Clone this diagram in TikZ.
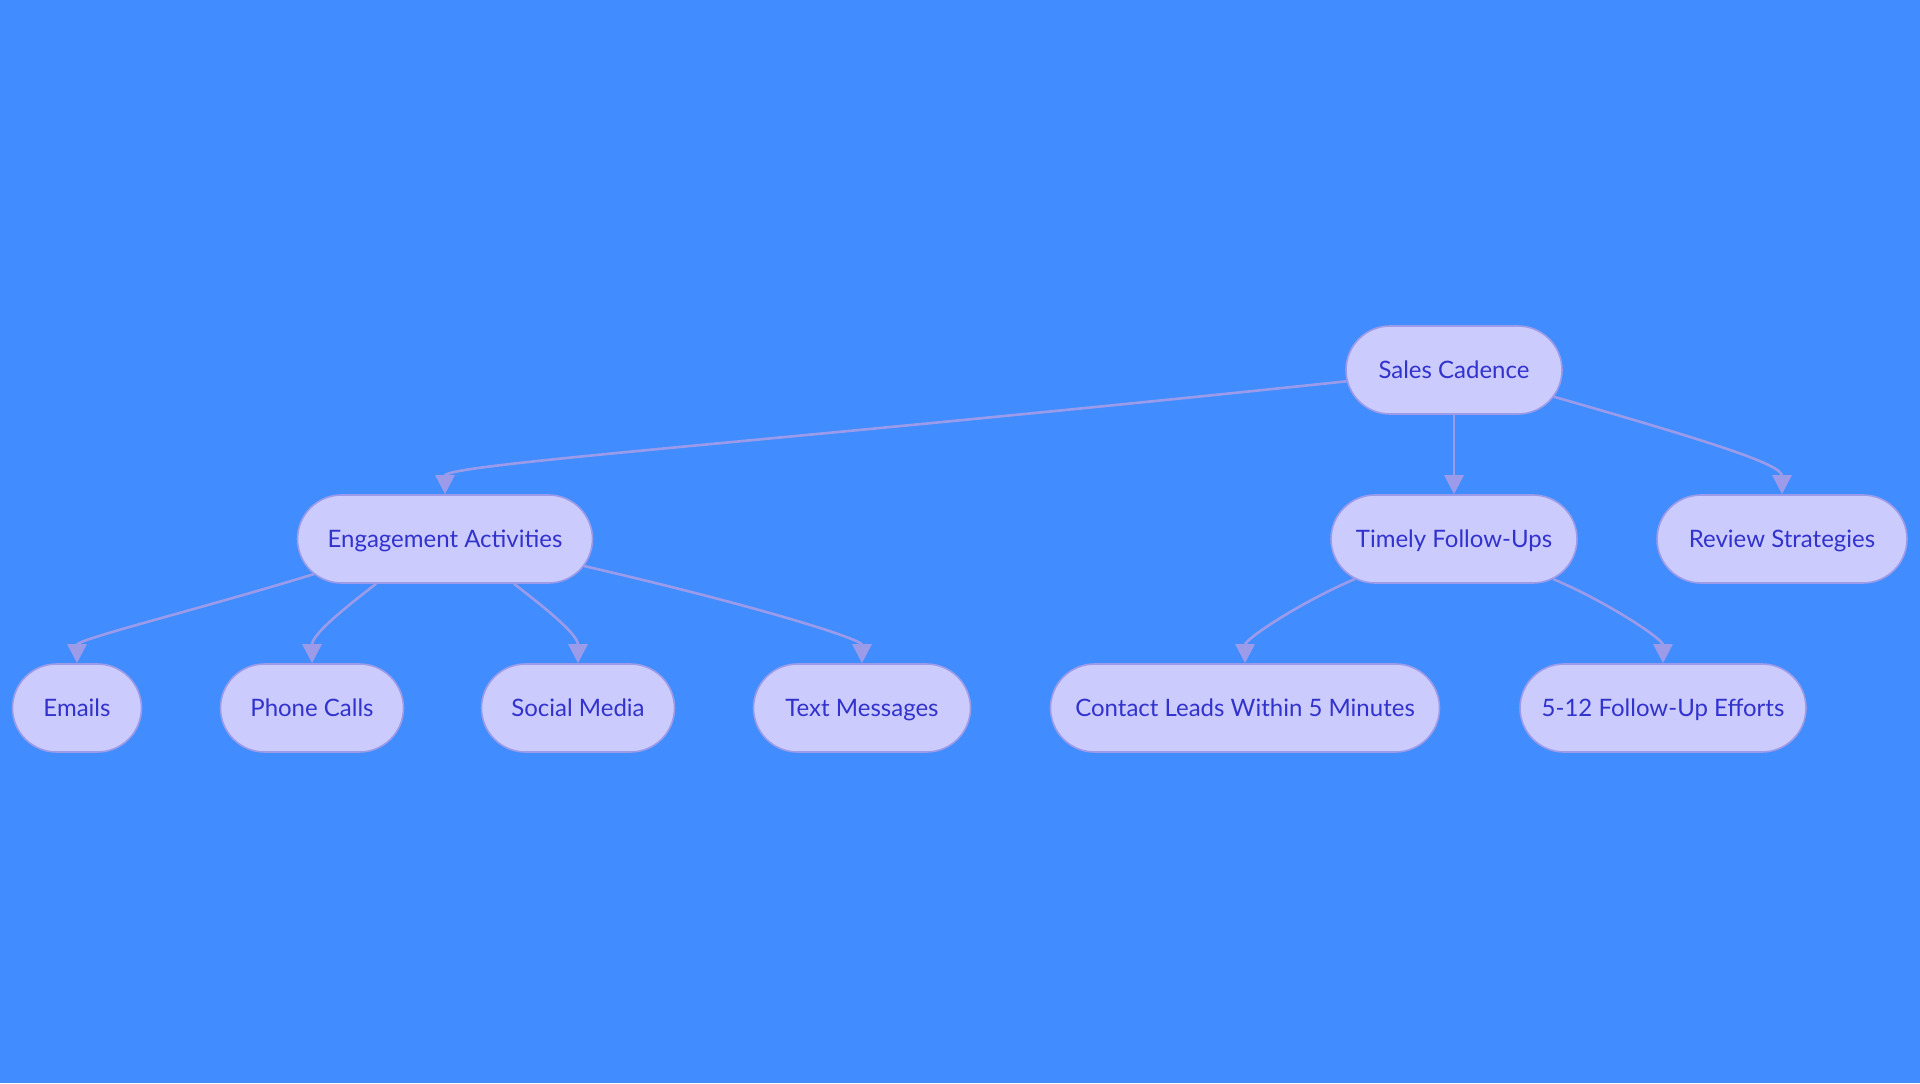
\documentclass[tikz,border=0pt]{standalone}
\usepackage{fontspec}
\setmainfont{Lato}
\usepackage{tikz}
\usetikzlibrary{arrows.meta,shapes.misc}
\definecolor{bgblue}{HTML}{418CFF}
\definecolor{boxfill}{HTML}{CBCBFD}
\definecolor{boxline}{HTML}{9B9BEA}
\definecolor{boxtext}{HTML}{3232CD}

\begin{document}
\begin{tikzpicture}[x=0.5pt,y=0.5pt,
	box/.style={rounded rectangle,draw=boxline,line width=0.8pt,fill=boxfill,text=boxtext,minimum height=44pt,inner sep=0pt,text height=11pt,text depth=2.5pt,font=\fontsize{12}{14}\selectfont},
	link/.style={boxline,line width=1.3pt,-{Triangle[width=9.5pt,length=9.5pt]}}]
	\fill[bgblue] (0,0) rectangle (1920,1083);
	\useasboundingbox (0,0) rectangle (1920,1083);
	% top
	\node[box,minimum width=108pt] (sc) at (1454,713) {Sales Cadence};
	% middle row
	\node[box,minimum width=147.5pt] (ea) at (445,544) {Engagement Activities};
	\node[box,minimum width=123pt] (tf) at (1454,544) {Timely Follow-Ups};
	\node[box,minimum width=125pt] (rs) at (1782,544) {Review Strategies};
	% bottom row
	\node[box,minimum width=64.5pt] (em) at (77,375) {Emails};
	\node[box,minimum width=91.5pt] (pc) at (312,375) {Phone Calls};
	\node[box,minimum width=96.5pt] (sm) at (578,375) {Social Media};
	\node[box,minimum width=108.5pt] (tm) at (862,375) {Text Messages};
	\node[box,minimum width=194.5pt] (cl) at (1245,375) {Contact Leads Within 5 Minutes};
	\node[box,minimum width=143pt] (fu) at (1663,375) {5-12 Follow-Up Efforts};
	% links
	\draw[link] (sc.186) to[out=186,in=90,out distance=300pt,in distance=15pt] (ea.north);
	\draw[link] (sc.south) -- (tf.north);
	\draw[link] (sc.-15) to[out=-16,in=90,out distance=80pt,in distance=15pt] (rs.north);
	\draw[link] (ea.195) to[out=197,in=90,out distance=60pt,in distance=12pt] (em.north);
	\draw[link] (ea.213) to[out=218,in=90,out distance=15pt,in distance=15pt] (pc.north);
	\draw[link] (ea.-33) to[out=-38,in=90,out distance=15pt,in distance=15pt] (sm.north);
	\draw[link] (ea.-11) to[out=-13,in=90,out distance=90pt,in distance=12pt] (tm.north);
	\draw[link] (tf.202) to[out=203,in=90,out distance=30pt,in distance=12pt] (cl.north);
	\draw[link] (tf.-22) to[out=-23,in=90,out distance=30pt,in distance=12pt] (fu.north);
\end{tikzpicture}
\end{document}
